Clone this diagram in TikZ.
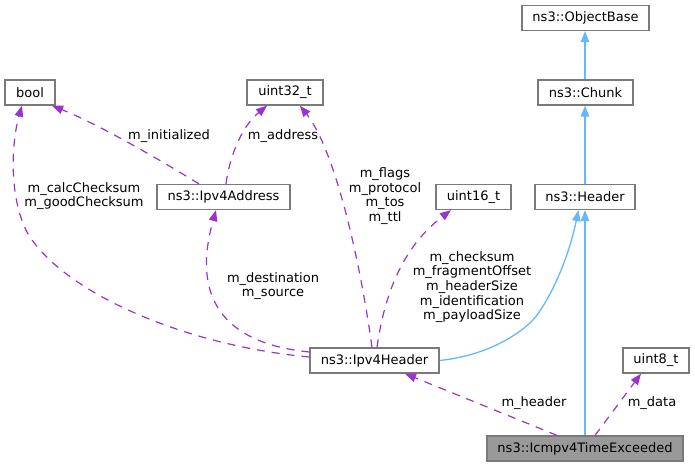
\documentclass[tikz,border=0pt]{standalone}
\usepackage{fontspec}
\setmainfont{DejaVu Sans}
\usetikzlibrary{arrows.meta}
\definecolor{edgepurple}{HTML}{9A32CD}
\definecolor{edgeblue}{HTML}{63B8FF}
\definecolor{boxborder}{HTML}{7A7A7A}
\definecolor{focalfill}{HTML}{999999}
\begin{document}
\begin{tikzpicture}[x=1pt,y=-1pt,
  cls/.style={draw=boxborder,line width=1.3pt,fill=white,inner sep=0pt,minimum height=25pt,
    font=\fontsize{13}{14.7}\selectfont,anchor=center},
  focal/.style={cls,fill=focalfill},
  member/.style={draw=edgepurple,line width=1.2pt,dash pattern=on 8pt off 7pt,
    -{Triangle[length=11pt,width=8.5pt,fill=edgepurple]}},
  inherit/.style={draw=edgeblue,line width=1.3pt,
    -{Triangle[length=11pt,width=8.5pt,fill=edgeblue]}},
  lbl/.style={font=\fontsize{13}{14.7}\selectfont,align=center,inner sep=0pt}]
\useasboundingbox (0,0) rectangle (695,467);
\node[cls,minimum width=50pt]  (bool)  at (30,92.5)   {bool};
\node[cls,minimum width=76pt]  (u32)   at (285,92.5)  {uint32\_t};
\node[cls,minimum width=133pt] (ipa)   at (223.5,197) {ns3::Ipv4Address};
\node[cls,minimum width=127pt] (obj)   at (585.5,18)  {ns3::ObjectBase};
\node[cls,minimum width=95pt]  (chunk) at (585.5,92.5){ns3::Chunk};
\node[cls,minimum width=75pt]  (u16)   at (473.5,197) {uint16\_t};
\node[cls,minimum width=100pt] (hdr)   at (585,197)   {ns3::Header};
\node[cls,minimum width=129pt] (iph)   at (374.5,360.5) {ns3::Ipv4Header};
\node[cls,minimum width=66pt]  (u8)    at (656,360.5) {uint8\_t};
\node[focal,minimum width=196pt] (icmp) at (585,448.5) {ns3::Icmpv4TimeExceeded};

% inheritance
\draw[inherit] ([xshift=-0.5pt]chunk.north) -- ([xshift=-0.5pt]obj.south);
\draw[inherit] (hdr.north) -- ([xshift=-0.5pt]chunk.south);
\draw[inherit] (icmp.north) -- (hdr.south);
\draw[inherit] (iph.east) .. controls (490,355) and (520,333) .. (533,320)
  .. controls (550,300) and (568,260) .. ([xshift=-6.5pt]hdr.south);

% members
\draw[member] ([xshift=-24.5pt]ipa.north) .. controls (160,160) and (100,125) .. ([xshift=22pt]bool.south);
\node[lbl] (lini) at (169,136) {m\_initialized};

\draw[member] ([xshift=2.5pt]ipa.north) .. controls (229,160) and (240,128) .. ([xshift=-18pt]u32.south);
\node[lbl] (ladr) at (283,136) {m\_address};

\draw[member] ([yshift=3.5pt]iph.west) .. controls (180,345) and (60,290) .. (27,232)
  .. controls (8,195) and (12,140) .. ([xshift=-8pt]bool.south);
\node[lbl] (lchk) at (84,196) {m\_calcChecksum\\m\_goodChecksum};

\draw[member] ([yshift=8.5pt]iph.west) .. controls (190,340) and (202,260) .. ([xshift=-7.5pt]ipa.south);
\node[lbl] (ldst) at (273,286) {m\_destination\\m\_source};

\draw[member] ([xshift=-2.5pt]iph.north) .. controls (360,260) and (335,150) .. ([xshift=15pt]u32.south);
\node[lbl] (lflg) at (385,196) {m\_flags\\m\_protocol\\m\_tos\\m\_ttl};

\draw[member] ([xshift=2.5pt]iph.north) .. controls (385,290) and (405,245) .. ([xshift=-22.5pt]u16.south);
\node[lbl] (lcks) at (472,287) {m\_checksum\\m\_fragmentOffset\\m\_headerSize\\m\_identification\\m\_payloadSize};

\draw[member] ([xshift=-28pt]icmp.north) -- ([xshift=30.5pt]iph.south);
\node[lbl] (lhdr) at (534,403) {m\_header};

\draw[member] ([xshift=10pt]icmp.north) -- ([xshift=-15pt]u8.south);
\node[lbl] (ldat) at (652,403) {m\_data};
\end{tikzpicture}
\end{document}
